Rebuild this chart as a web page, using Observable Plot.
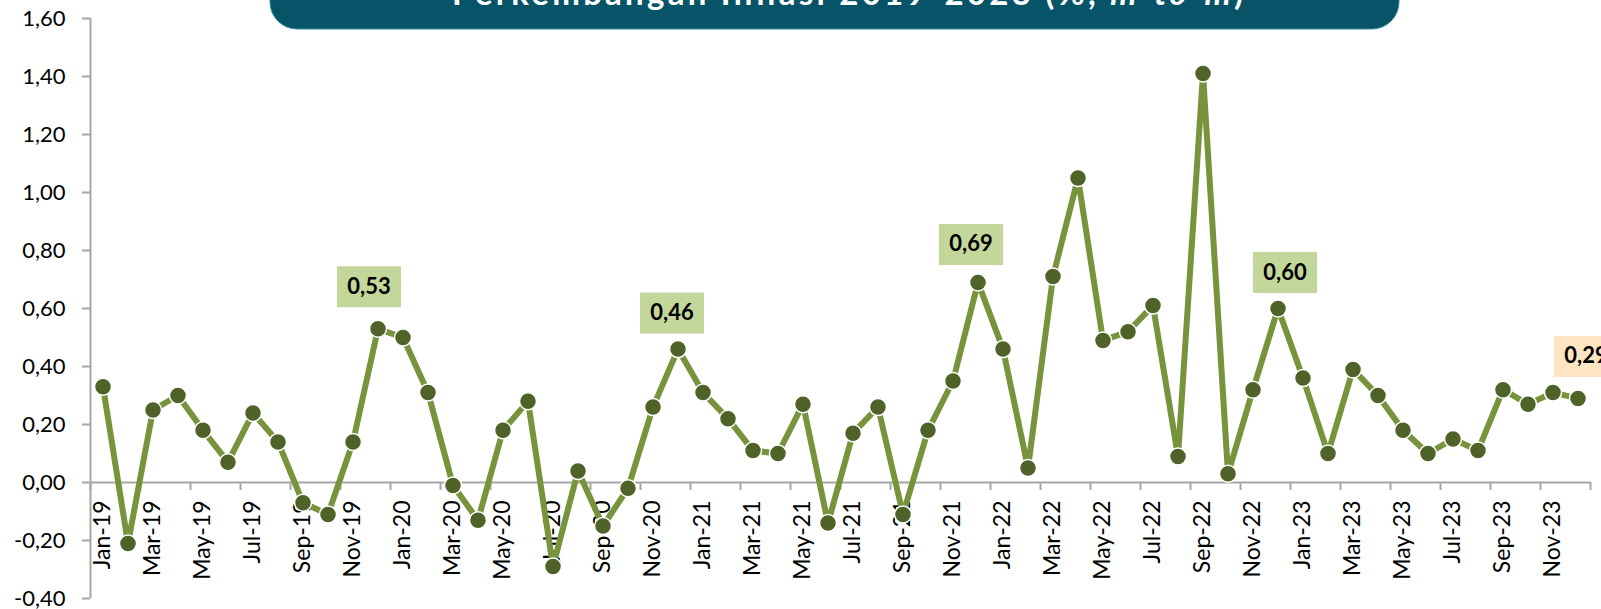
<!DOCTYPE html>
<html>
<head>
<meta charset="utf-8">
<script src="https://cdn.jsdelivr.net/npm/d3@7"></script>
<script src="https://cdn.jsdelivr.net/npm/@observablehq/plot@0.6"></script>
<style>
  html, body { margin: 0; padding: 0; background: #fff; overflow: hidden; }
  #wrap { position: relative; width: 1601px; height: 609px; }
  #wrap > svg { position: absolute; left: 0; top: 0; }
</style>
</head>
<body>
<div id="wrap"></div>
<script>
// ---- data ----
const months = [
  "Jan-19","Feb-19","Mar-19","Apr-19","May-19","Jun-19","Jul-19","Aug-19","Sep-19","Oct-19","Nov-19","Dec-19",
  "Jan-20","Feb-20","Mar-20","Apr-20","May-20","Jun-20","Jul-20","Aug-20","Sep-20","Oct-20","Nov-20","Dec-20",
  "Jan-21","Feb-21","Mar-21","Apr-21","May-21","Jun-21","Jul-21","Aug-21","Sep-21","Oct-21","Nov-21","Dec-21",
  "Jan-22","Feb-22","Mar-22","Apr-22","May-22","Jun-22","Jul-22","Aug-22","Sep-22","Oct-22","Nov-22","Dec-22",
  "Jan-23","Feb-23","Mar-23","Apr-23","May-23","Jun-23","Jul-23","Aug-23","Sep-23","Oct-23","Nov-23","Dec-23"
];
const inflation = [
  0.33, -0.21, 0.25, 0.30, 0.18, 0.07, 0.24, 0.14, -0.07, -0.11, 0.14, 0.53,
  0.50, 0.31, -0.01, -0.13, 0.18, 0.28, -0.29, 0.04, -0.15, -0.02, 0.26, 0.46,
  0.31, 0.22, 0.11, 0.10, 0.27, -0.14, 0.17, 0.26, -0.11, 0.18, 0.35, 0.69,
  0.46, 0.05, 0.71, 1.05, 0.49, 0.52, 0.61, 0.09, 1.41, 0.03, 0.32, 0.60,
  0.36, 0.10, 0.39, 0.30, 0.18, 0.10, 0.15, 0.11, 0.32, 0.27, 0.31, 0.29
];
const xTickLabels = [
  "Jan-19","Mar-19","May-19","Jul-19","Sep-19","Nov-19",
  "Jan-20","Mar-20","May-20","Jul-20","Sep-20","Nov-20",
  "Jan-21","Mar-21","May-21","Jul-21","Sep-21","Nov-21",
  "Jan-22","Mar-22","May-22","Jul-22","Sep-22","Nov-22",
  "Jan-23","Mar-23","May-23","Jul-23","Sep-23","Nov-23"
];
const yTicks = [-0.4, -0.2, 0, 0.2, 0.4, 0.6, 0.8, 1.0, 1.2, 1.4, 1.6];
const highlightMonths = ["Dec-19", "Dec-20", "Dec-21", "Dec-22"];
const latestMonth = "Dec-23";
const titleMain = "Perkembangan Inflasi 2019-2023 (%, ";
const titleItalic = "m-to-m";
const titleEnd = ")";

// ---- derived table ----
const data = months.map((m, i) => ({i, m, v: inflation[i]}));
const byMonth = new Map(data.map(d => [d.m, d]));
const xLabelData = xTickLabels.map(m => byMonth.get(m));
const boundaries = d3.range(-0.5, months.length, 2);
const fmt = v => (Math.round(v * 100) / 100).toFixed(2).replace(".", ",");

const axisGray = "#a6a6a6";
const boxSym = {draw(ctx) { ctx.rect(-32, -20.5, 64, 41); }};

function labelMarks(month, dx, dy, fill) {
  const d = [byMonth.get(month)];
  return [
    Plot.dot(d, {x: "i", y: "v", symbol: boxSym, r: 10, fill, stroke: "none", dx, dy}),
    Plot.text(d, {x: "i", y: "v", text: d => fmt(d.v), dx, dy, fontWeight: "bold", fontSize: 22, fill: "#000"})
  ];
}

const chart = Plot.plot({
  width: 1601,
  height: 609,
  marginLeft: 90,
  marginRight: 11,
  marginTop: 18,
  marginBottom: 11,
  x: {type: "linear", domain: [-0.5, months.length - 0.5], axis: null},
  y: {domain: [-0.4, 1.6], axis: null},
  style: {fontFamily: "Lato, sans-serif", fontSize: "22px", color: "#000", background: "transparent", overflow: "visible"},
  marks: [
    Plot.ruleX([-0.5], {stroke: axisGray, strokeWidth: 2}),
    Plot.axisY(yTicks, {tickSize: 8, tickPadding: 17, tickFormat: fmt, stroke: axisGray, strokeWidth: 2, fill: "#000", fontSize: 22, label: null}),
    Plot.ruleY([0], {stroke: axisGray, strokeWidth: 2}),
    Plot.ruleX(boundaries, {y1: 0, y2: 0, insetBottom: -8, stroke: axisGray, strokeWidth: 2}),
    Plot.text(xLabelData, {x: "i", y: () => 0, text: "m", rotate: -90, textAnchor: "end", dy: 18, fontSize: 23, fill: "#000"}),
    Plot.line(data, {x: "i", y: "v", stroke: "#77933c", strokeWidth: 6}),
    Plot.dot(data, {x: "i", y: "v", r: 8.5, fill: "#4f6228", stroke: "#fff", strokeWidth: 1.5}),
    ...labelMarks(highlightMonths[0], -9, -42, "#c4d79b"),
    ...labelMarks(highlightMonths[1], -6, -36, "#c4d79b"),
    ...labelMarks(highlightMonths[2], -7, -38, "#c4d79b"),
    ...labelMarks(highlightMonths[3], 7, -36, "#c4d79b"),
    ...labelMarks(latestMonth, 8, -42, "#fde5c1")
  ]
});

const wrap = document.getElementById("wrap");
wrap.appendChild(chart);

// ---- title banner ----
const ns = "http://www.w3.org/2000/svg";
const tsvg = document.createElementNS(ns, "svg");
tsvg.setAttribute("width", 1601);
tsvg.setAttribute("height", 40);
tsvg.style.position = "absolute";
tsvg.style.left = "0";
tsvg.style.top = "0";
const rect = document.createElementNS(ns, "rect");
rect.setAttribute("x", 270); rect.setAttribute("y", -45);
rect.setAttribute("width", 1129); rect.setAttribute("height", 74);
rect.setAttribute("rx", 27);
rect.setAttribute("fill", "#075468");
rect.setAttribute("stroke", "#3d8aa0");
rect.setAttribute("stroke-width", 1);
tsvg.appendChild(rect);
const t = document.createElementNS(ns, "text");
t.setAttribute("x", 847.5); t.setAttribute("y", 5);
t.setAttribute("text-anchor", "middle");
t.setAttribute("font-family", "Lato, sans-serif");
t.setAttribute("font-weight", "bold");
t.setAttribute("font-size", 33);
t.setAttribute("fill", "#fff");
t.setAttribute("textLength", 791);
t.setAttribute("lengthAdjust", "spacing");
t.appendChild(document.createTextNode(titleMain));
const ti = document.createElementNS(ns, "tspan");
ti.setAttribute("font-style", "italic");
ti.textContent = titleItalic;
t.appendChild(ti);
t.appendChild(document.createTextNode(titleEnd));
tsvg.appendChild(t);
wrap.appendChild(tsvg);
</script>
</body>
</html>
